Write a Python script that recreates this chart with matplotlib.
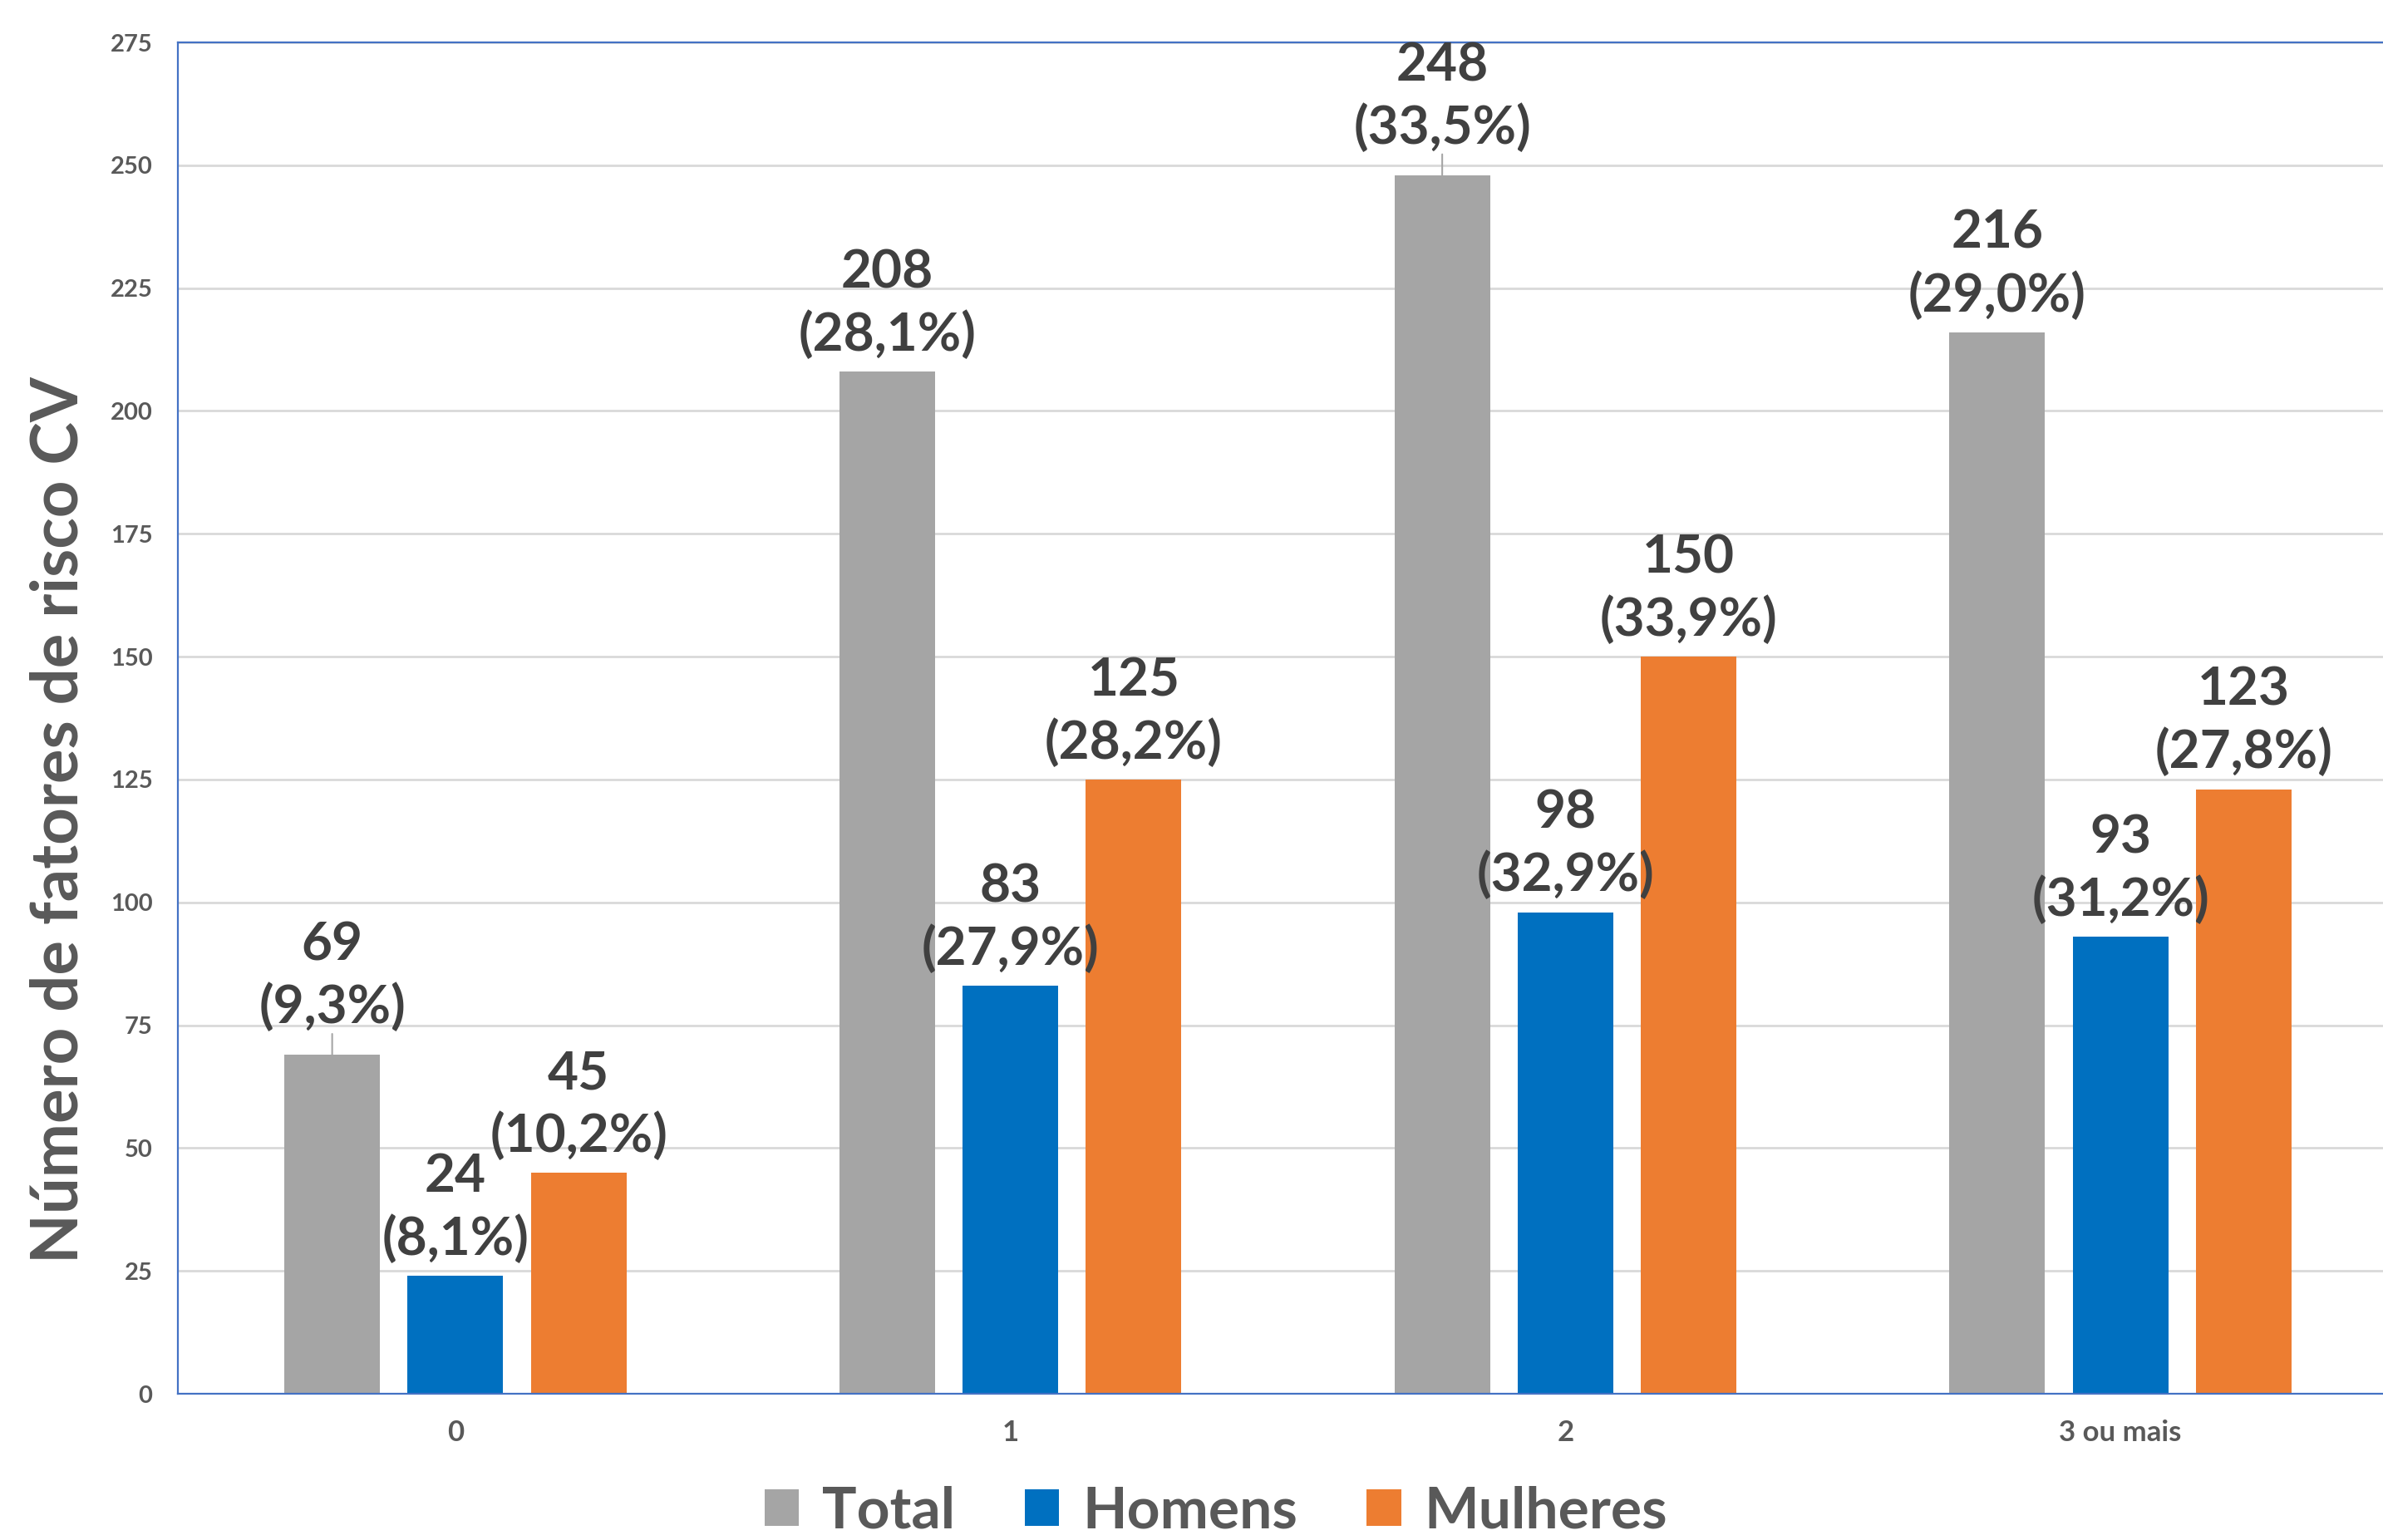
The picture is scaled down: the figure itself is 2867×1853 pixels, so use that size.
import numpy as np
import matplotlib
matplotlib.use("Agg")
import matplotlib.pyplot as plt

plt.rcParams["font.family"] = ["Lato", "DejaVu Sans"]

categories = ["0", "1", "2", "3 ou mais"]
series_names = ["Total", "Homens", "Mulheres"]
total = [69, 208, 248, 216]
homens = [24, 83, 98, 93]
mulheres = [45, 125, 150, 123]
total_pct = ["9,3%", "28,1%", "33,5%", "29,0%"]
homens_pct = ["8,1%", "27,9%", "32,9%", "31,2%"]
mulheres_pct = ["10,2%", "28,2%", "33,9%", "27,8%"]
colors = ["#A5A5A5", "#0070C0", "#ED7D31"]
y_ticks = list(range(0, 276, 25))

W, H = 2867, 1853
fig = plt.figure(figsize=(W / 100, H / 100), dpi=100)
ax = fig.add_axes([214 / W, 1 - 1677 / H, (2885 - 214) / W, (1677 - 51) / H])

x = np.arange(len(categories))
width = 0.172
step = 0.222

data = [total, homens, mulheres]
pcts = [total_pct, homens_pct, mulheres_pct]
for i, (vals, pct, name, col) in enumerate(zip(data, pcts, series_names, colors)):
    xs = x + (i - 1) * step
    ax.bar(xs, vals, width=width, color=col, label=name, zorder=2)
    for xi, v, p in zip(xs, vals, pct):
        # Excel leader lines on the two labels that were nudged
        leader = name == "Total" and v in (69, 248)
        ax.annotate(
            f"{v}\n({p})",
            xy=(xi, v),
            xytext=(0, 20 if leader else 11),
            textcoords="offset points",
            ha="center",
            va="bottom",
            fontsize=46,
            fontweight="bold",
            color="#404040",
            linespacing=1.32,
            annotation_clip=False,
            arrowprops=dict(arrowstyle="-", color="#A5A5A5", lw=1.5,
                            shrinkA=0, shrinkB=0, relpos=(0.5, 0.0))
            if leader else None,
            zorder=3,
        )

ax.set_xlim(-0.5, 3.5)
ax.set_ylim(0, 275)
ax.set_yticks(y_ticks)
ax.set_xticks(x)
ax.set_xticklabels(categories)
ax.tick_params(axis="both", length=0, labelcolor="#595959")
ax.tick_params(axis="y", pad=22, labelsize=21)
ax.tick_params(axis="x", pad=22, labelsize=25)
for lab in ax.get_xticklabels() + ax.get_yticklabels():
    lab.set_fontweight("bold")

ax.yaxis.grid(True, color="#D9D9D9", linewidth=2, zorder=0)
ax.set_axisbelow(True)
for side in ["left", "bottom", "top"]:
    ax.spines[side].set_color("#4472C4")
    ax.spines[side].set_linewidth(1.6)
ax.spines["right"].set_visible(False)

fig.text(72 / W, 1 - 987 / H, "Número de fatores de risco CV", rotation=90,
         ha="center", va="center", fontsize=56, fontweight="bold",
         color="#595959")

leg = fig.legend(
    loc="center",
    bbox_to_anchor=(1463 / W, 1 - 1819 / H),
    ncol=3,
    frameon=False,
    fontsize=50,
    handlelength=0.6,
    handleheight=0.6,
    handletextpad=0.4,
    columnspacing=1.2,
)
for t in leg.get_texts():
    t.set_color("#595959")
    t.set_fontweight("bold")

fig.savefig("out.png", dpi=100)
